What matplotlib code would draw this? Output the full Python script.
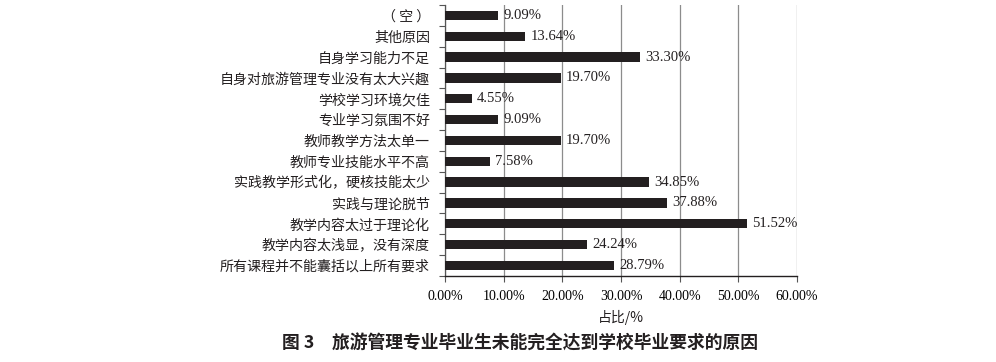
import matplotlib
matplotlib.use("Agg")
import matplotlib.pyplot as plt
from matplotlib.ticker import FixedLocator

categories = ["（ 空 ）", "其他原因", "自身学习能力不足", "自身对旅游管理专业没有太大兴趣",
              "学校学习环境欠佳", "专业学习氛围不好", "教师教学方法太单一", "教师专业技能水平不高",
              "实践教学形式化，硬核技能太少", "实践与理论脱节", "教学内容太过于理论化",
              "教学内容太浅显，没有深度", "所有课程并不能囊括以上所有要求"]
values = [9.09, 13.64, 33.30, 19.70, 4.55, 9.09, 19.70, 7.58, 34.85, 37.88, 51.52, 24.24, 28.79]
xticks = [0, 10, 20, 30, 40, 50, 60]
xlabel = "占比/%"
title = "图 3　旅游管理专业毕业生未能完全达到学校毕业要求的原因"

serif = ["Liberation Serif", "Noto Sans CJK SC"]
cjk = ["Noto Sans CJK SC", "DejaVu Sans"]

fig = plt.figure(figsize=(9.96, 3.62), dpi=100)
ax = fig.add_axes([0.447, 0.238, 0.353, 0.748])

n = len(categories)
ypos = list(range(n))
ax.barh(ypos, values, height=0.45, color="#231f20", zorder=3)
ax.set_ylim(n - 0.5, -0.5)
ax.set_xlim(0, 60)

for y, v in zip(ypos, values):
    ax.text(v + 0.9, y, f"{v:.2f}%", va="center", ha="left", fontsize=10.5,
            family=serif, color="#231f20", zorder=4)

ax.set_xticks(xticks)
ax.set_xticklabels([f"{t:.2f}%" for t in xticks], family=serif, fontsize=10)
ax.set_yticks(ypos)
ax.set_yticklabels(categories, family=cjk, fontsize=10.1, color="#231f20")
ax.tick_params(axis="y", length=0, pad=11)
ax.yaxis.set_minor_locator(FixedLocator([i - 0.5 for i in range(n + 1)]))
ax.tick_params(axis="y", which="minor", length=4, color="#555555", width=0.8)
ax.tick_params(axis="x", length=4, color="#555555", width=0.8, pad=6)

ax.grid(axis="x", color="#8c8c8c", linewidth=0.9, zorder=0)
for s in ["top", "right"]:
    ax.spines[s].set_visible(False)
ax.spines["left"].set_color("#555555")
ax.spines["left"].set_linewidth(0.9)
ax.spines["bottom"].set_color("#231f20")
ax.spines["bottom"].set_linewidth(1.0)

ax.set_xlabel(xlabel, family=cjk, fontsize=10, labelpad=5, color="#231f20")

fig.text(0.522, 0.052, title, ha="center", va="center", family=cjk,
         fontsize=12.8, fontweight="bold", color="#231f20")

fig.savefig("out.png", dpi=100)
